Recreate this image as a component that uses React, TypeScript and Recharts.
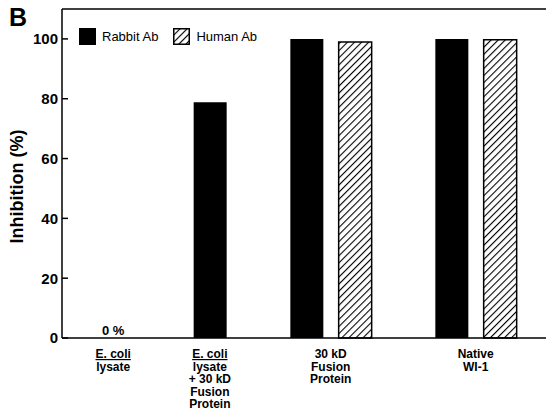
import React from 'react';
import {
  BarChart,
  Bar,
  Cell,
  XAxis,
  YAxis,
  Legend,
  ReferenceLine
} from 'recharts';

// group labels, one line per entry
const categories = [
  ['E. coli', 'lysate'],
  ['E. coli', 'lysate', '+ 30 kD', 'Fusion', 'Protein'],
  ['30 kD', 'Fusion', 'Protein'],
  ['Native', 'WI-1']
];
const rabbitAb = [0, 78.8, 100, 100];
const humanAb: (number | null)[] = [null, null, 99, 99.7];
const seriesNames = ['Rabbit Ab', 'Human Ab'];
const yTicks = [0, 20, 40, 60, 80, 100];

const FONT = '"Liberation Sans", Arial, Helvetica, sans-serif';

// one slot per bar, with an empty slot between groups
interface Slot {
  key: string;
  value: number | null;
  series: number;
  group: number;
  start: boolean;
  span: number;
}
const slots: Slot[] = [];
categories.forEach((_, g) => {
  const used = [rabbitAb[g], humanAb[g]]
    .map((v, s) => ({ v, s }))
    .filter(d => d.v !== null);
  used.forEach((d, i) => {
    slots.push({ key: `s${slots.length}`, value: d.v as number, series: d.s, group: g, start: i === 0, span: used.length });
  });
  if (g < categories.length - 1) {
    slots.push({ key: `s${slots.length}`, value: null, series: -1, group: -1, start: false, span: 0 });
  }
});

const GroupTick = (props: any) => {
  const { x, y, payload } = props;
  const slot = slots.find(s => s.key === payload.value);
  if (!slot || !slot.start) return null;
  const cx = x + (slot.span - 1) * (payload.offset || 0);
  const lines = categories[slot.group];
  return (
    <g>
      {slot.value === 0 && (
        <text x={x} y={y - 11} textAnchor="middle" fontFamily={FONT} fontWeight={700} fontSize={13} fill="#000">
          0 %
        </text>
      )}
      <text x={cx} y={y} textAnchor="middle" fontFamily={FONT} fontWeight={700} fontSize={12} fill="#000">
        {lines.map((l, i) => (
          <tspan key={i} x={cx} dy={i === 0 ? 12 : 12.5} textDecoration={l === 'E. coli' ? 'underline' : undefined}>
            {l}
          </tspan>
        ))}
      </text>
    </g>
  );
};

const YTitle = (props: any) => {
  const vb = props.viewBox;
  const cx = vb.x + 17;
  const cy = vb.y + vb.height / 2 + 13;
  return (
    <text
      x={cx}
      y={cy}
      transform={`rotate(-90 ${cx} ${cy})`}
      textAnchor="middle"
      dominantBaseline="central"
      fontFamily={FONT}
      fontWeight={700}
      fontSize={18}
      fill="#000"
    >
      Inhibition (%)
    </text>
  );
};

const LegendContent = () => (
  <div style={{ display: 'flex', alignItems: 'center', fontFamily: FONT, fontSize: 13, color: '#000' }}>
    {seriesNames.map((n, i) => (
      <div key={n} style={{ display: 'flex', alignItems: 'center', marginRight: 15 }}>
        <svg width={17} height={17}>
          <defs>
            <pattern id="hatchLegend" patternUnits="userSpaceOnUse" width={5} height={5} patternTransform="rotate(45)">
              <rect width={5} height={5} fill="#fff" />
              <line x1={0} y1={0} x2={0} y2={5} stroke="#000" strokeWidth={2.2} />
            </pattern>
          </defs>
          <rect x={0.75} y={0.75} width={15.5} height={15.5} fill={i === 0 ? '#000' : 'url(#hatchLegend)'} stroke="#000" strokeWidth={1.5} />
        </svg>
        <span style={{ marginLeft: 6 }}>{n}</span>
      </div>
    ))}
  </div>
);

const App: React.FC = () => {
  return (
    <div style={{ position: 'absolute', left: 0, top: 0, width: 546, height: 413, background: '#fff' }}>
      <div style={{ position: 'absolute', left: 9, top: 3, fontFamily: FONT, fontWeight: 700, fontSize: 25, color: '#000' }}>
        B
      </div>
      <BarChart
        width={546}
        height={413}
        data={slots}
        margin={{ top: 9, right: 0, left: 0, bottom: 0 }}
        barSize={33}
      >
        <defs>
          <pattern id="hatch" patternUnits="userSpaceOnUse" width={5} height={5} patternTransform="rotate(45)">
            <rect width={5} height={5} fill="#fff" />
            <line x1={0} y1={0} x2={0} y2={5} stroke="#000" strokeWidth={2.2} />
          </pattern>
        </defs>
        <XAxis
          dataKey="key"
          type="category"
          interval={0}
          height={75}
          padding={{ left: 27, right: 22 }}
          axisLine={{ stroke: '#000', strokeWidth: 1.5 }}
          tickLine={false}
          tick={<GroupTick />}
        />
        <YAxis
          domain={[0, 110]}
          ticks={yTicks}
          width={62}
          tickSize={-6}
          tickMargin={10}
          axisLine={{ stroke: '#000', strokeWidth: 1.5 }}
          tickLine={{ stroke: '#000', strokeWidth: 1.5 }}
          tick={{ fill: '#000', fontSize: 15, fontWeight: 700, fontFamily: FONT }}
          label={<YTitle />}
        />
        <ReferenceLine y={110} stroke="#000" strokeWidth={1.5} />
        <Legend
          layout="vertical"
          align="center"
          verticalAlign="middle"
          content={<LegendContent />}
          wrapperStyle={{ left: 79, top: 28, width: 240 }}
        />
        <Bar dataKey="value" isAnimationActive={false}>
          {slots.map(s => (
            <Cell
              key={s.key}
              fill={s.series === 1 ? 'url(#hatch)' : '#000'}
              stroke="#000"
              strokeWidth={s.series === 1 ? 1.5 : 0}
            />
          ))}
        </Bar>
      </BarChart>
    </div>
  );
};

export default App;
